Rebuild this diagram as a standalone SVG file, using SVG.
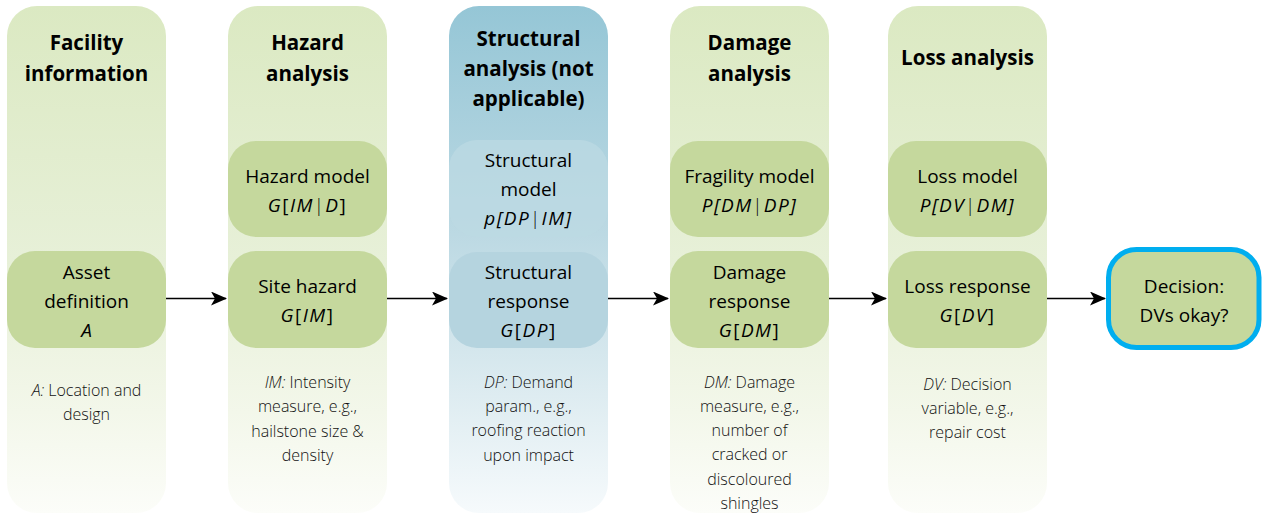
<svg xmlns="http://www.w3.org/2000/svg" width="1262" height="514" viewBox="0 0 1262 514">
  <defs>
    <linearGradient id="gGreen" x1="0" y1="0" x2="0" y2="1">
      <stop offset="0" stop-color="#DBE9C2"/>
      <stop offset="0.5" stop-color="#E7F0D8"/>
      <stop offset="0.8" stop-color="#F3F7EA"/>
      <stop offset="1" stop-color="#FCFDF9"/>
    </linearGradient>
    <linearGradient id="gBlue" x1="0" y1="0" x2="0" y2="1">
      <stop offset="0" stop-color="#95C6D6"/>
      <stop offset="0.45" stop-color="#BCD9E3"/>
      <stop offset="0.75" stop-color="#DCEBF0"/>
      <stop offset="1" stop-color="#F6FAFC"/>
    </linearGradient>
    <marker id="arr" viewBox="0 0 16 14" refX="15" refY="7" markerWidth="16" markerHeight="14" markerUnits="userSpaceOnUse" orient="auto">
      <path d="M0,0 L16,7 L0,14 L4,7 Z" fill="#000"/>
    </marker>
    <style>
      .col { fill: url(#gGreen); }
      .colb { fill: url(#gBlue); }
      .box { fill: #C5D89D; }
      .title { font-family: "Open Sans", "Liberation Sans", sans-serif; font-weight: 700; font-size: 20.5px; fill: #000; text-anchor: middle; }
      .lbl { font-family: "Open Sans", "Liberation Sans", sans-serif; font-size: 19px; fill: #000; text-anchor: middle; }
      .desc { font-family: "Open Sans", "Liberation Sans", sans-serif; font-weight: 300; font-size: 16px; fill: #111; text-anchor: middle; }
      .it { font-style: italic; }
      .up { font-style: normal; }
      .bar { font-style: normal; font-weight: 300; font-size: 18px; }
      .conn line { stroke: #000; stroke-width: 1.3; marker-end: url(#arr); }
    </style>
  </defs>

  <g id="col-facility">
    <rect class="col" x="7" y="6" width="159" height="507" rx="30"/>
    <text class="title" x="86.5" y="50">Facility</text>
    <text class="title" x="86.5" y="81">information</text>
  </g>
  <g id="col-hazard">
    <rect class="col" x="228" y="6" width="159" height="507" rx="30"/>
    <text class="title" x="307.5" y="50">Hazard</text>
    <text class="title" x="307.5" y="81">analysis</text>
  </g>
  <g id="col-structural">
    <rect class="colb" x="449" y="6" width="159" height="507" rx="30"/>
    <text class="title" x="528.5" y="46">Structural</text>
    <text class="title" x="528.5" y="76">analysis (not</text>
    <text class="title" x="528.5" y="106">applicable)</text>
  </g>
  <g id="col-damage">
    <rect class="col" x="670" y="6" width="159" height="507" rx="30"/>
    <text class="title" x="749.5" y="50">Damage</text>
    <text class="title" x="749.5" y="81">analysis</text>
  </g>
  <g id="col-loss">
    <rect class="col" x="888" y="6" width="159" height="507" rx="30"/>
    <text class="title" x="967.5" y="65">Loss analysis</text>
  </g>

  <g id="asset-definition">
    <rect class="box" x="7" y="251" width="159" height="97" rx="28"/>
    <text class="lbl" x="86.5" y="279">Asset</text>
    <text class="lbl" x="86.5" y="308">definition</text>
    <text class="lbl it" x="86.5" y="337">A</text>
  </g>
  <g id="desc-asset">
    <text class="desc" x="86.5" y="396"><tspan class="it">A:</tspan> Location and</text>
    <text class="desc" x="86.5" y="420">design</text>
  </g>

  <g id="hazard-model">
    <rect class="box" x="228" y="141" width="159" height="96" rx="28"/>
    <text class="lbl" x="307.5" y="183">Hazard model</text>
    <text class="lbl" x="307.5" y="212" letter-spacing="1.5"><tspan class="it">G</tspan>[<tspan class="it">IM</tspan><tspan class="bar">|</tspan><tspan class="it">D</tspan>]</text>
  </g>
  <g id="site-hazard">
    <rect class="box" x="228" y="251" width="159" height="97" rx="28"/>
    <text class="lbl" x="307.5" y="293">Site hazard</text>
    <text class="lbl" x="307.5" y="322" letter-spacing="1.5"><tspan class="it">G</tspan>[<tspan class="it">IM</tspan>]</text>
  </g>
  <g id="desc-hazard">
    <text class="desc" x="307.5" y="388"><tspan class="it">IM:</tspan> Intensity</text>
    <text class="desc" x="307.5" y="412">measure, e.g.,</text>
    <text class="desc" x="307.5" y="437">hailstone size &amp;</text>
    <text class="desc" x="307.5" y="461">density</text>
  </g>

  <g id="structural-model">
    <rect x="449" y="140" width="159" height="97" rx="28" fill="#BCD9E3" fill-opacity="0.75"/>
    <text class="lbl" x="528.5" y="167">Structural</text>
    <text class="lbl" x="528.5" y="196">model</text>
    <text class="lbl it" x="528.5" y="225" letter-spacing="1.5">p[DP<tspan class="bar">|</tspan>IM]</text>
  </g>
  <g id="structural-response">
    <rect x="449" y="252" width="159" height="96" rx="28" fill="#B5D4DF"/>
    <text class="lbl" x="528.5" y="279">Structural</text>
    <text class="lbl" x="528.5" y="308">response</text>
    <text class="lbl" x="528.5" y="337" letter-spacing="1.5"><tspan class="it">G</tspan>[<tspan class="it">DP</tspan>]</text>
  </g>
  <g id="desc-structural">
    <text class="desc" x="528.5" y="388"><tspan class="it">DP:</tspan> Demand</text>
    <text class="desc" x="528.5" y="412">param., e.g.,</text>
    <text class="desc" x="528.5" y="436">roofing reaction</text>
    <text class="desc" x="528.5" y="461">upon impact</text>
  </g>

  <g id="fragility-model">
    <rect class="box" x="670" y="141" width="159" height="96" rx="28"/>
    <text class="lbl" x="749.5" y="183">Fragility model</text>
    <text class="lbl it" x="749.5" y="212" letter-spacing="1.5">P[DM<tspan class="bar">|</tspan>DP]</text>
  </g>
  <g id="damage-response">
    <rect class="box" x="670" y="251" width="159" height="97" rx="28"/>
    <text class="lbl" x="749.5" y="279">Damage</text>
    <text class="lbl" x="749.5" y="308">response</text>
    <text class="lbl" x="749.5" y="337" letter-spacing="1.5"><tspan class="it">G</tspan>[<tspan class="it">DM</tspan>]</text>
  </g>
  <g id="desc-damage">
    <text class="desc" x="749.5" y="388"><tspan class="it">DM:</tspan> Damage</text>
    <text class="desc" x="749.5" y="412">measure, e.g.,</text>
    <text class="desc" x="749.5" y="436">number of</text>
    <text class="desc" x="749.5" y="460">cracked or</text>
    <text class="desc" x="749.5" y="485">discoloured</text>
    <text class="desc" x="749.5" y="509">shingles</text>
  </g>

  <g id="loss-model">
    <rect class="box" x="888" y="141" width="159" height="96" rx="28"/>
    <text class="lbl" x="967.5" y="183">Loss model</text>
    <text class="lbl it" x="967.5" y="212" letter-spacing="1.5">P[DV<tspan class="bar">|</tspan>DM]</text>
  </g>
  <g id="loss-response">
    <rect class="box" x="888" y="251" width="159" height="97" rx="28"/>
    <text class="lbl" x="967.5" y="293">Loss response</text>
    <text class="lbl" x="967.5" y="322" letter-spacing="1.5"><tspan class="it">G</tspan>[<tspan class="it">DV</tspan>]</text>
  </g>
  <g id="desc-loss">
    <text class="desc" x="967.5" y="390"><tspan class="it">DV:</tspan> Decision</text>
    <text class="desc" x="967.5" y="414">variable, e.g.,</text>
    <text class="desc" x="967.5" y="438">repair cost</text>
  </g>

  <g id="decision">
    <rect x="1108.5" y="249.5" width="150.5" height="98" rx="28" fill="#C5D89D" stroke="#00AEEF" stroke-width="5"/>
    <text class="lbl" x="1184" y="293">Decision:</text>
    <text class="lbl" x="1184" y="322">DVs okay?</text>
  </g>

  <g id="connectors" class="conn">
    <line x1="166" y1="298.5" x2="226" y2="298.5"/>
    <line x1="387" y1="298.5" x2="447" y2="298.5"/>
    <line x1="608" y1="298.5" x2="668" y2="298.5"/>
    <line x1="829" y1="298.5" x2="886" y2="298.5"/>
    <line x1="1047" y1="298.5" x2="1105" y2="298.5"/>
  </g>
</svg>
